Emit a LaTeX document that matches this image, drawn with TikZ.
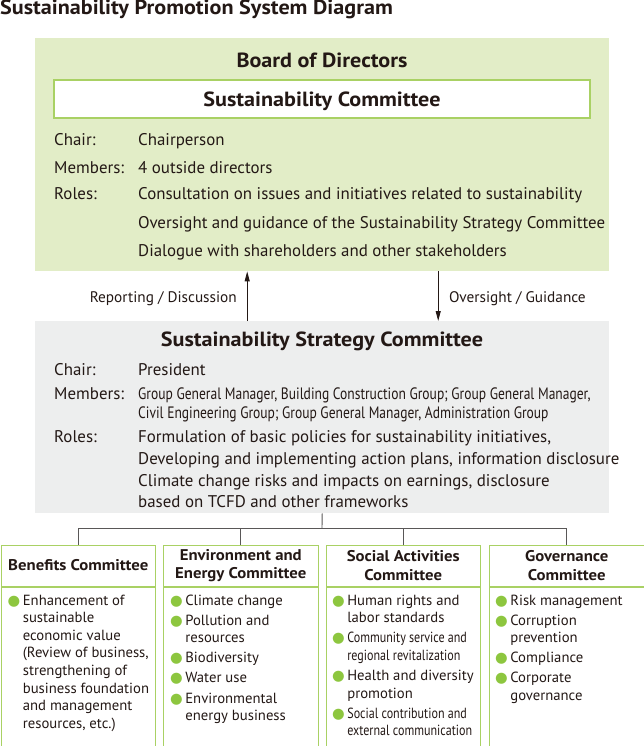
\documentclass[tikz,border=0pt]{standalone}
\usepackage{fontspec}
\setmainfont{PT Sans}
\newfontfamily\narrowfont[FakeStretch=0.82]{PT Sans}
\newfontfamily\headfont[FakeStretch=1.08]{PT Sans}
\newfontfamily\dotfont{DejaVu Sans}
\usetikzlibrary{positioning, arrows.meta}

\definecolor{boardgreen}{HTML}{E2EDC7}
\definecolor{framegreen}{HTML}{A9D164}
\definecolor{dotgreen}{HTML}{8DC63F}
\definecolor{strategygray}{HTML}{EDEEEE}
\definecolor{inkblack}{HTML}{231815}
\definecolor{treegray}{HTML}{595757}

\newcommand{\greendot}{{\dotfont\fontsize{14.5}{17.6}\selectfont\textcolor{dotgreen}{●}}}
\newcommand{\bodysize}{\fontsize{16.9}{22}\selectfont}
\newcommand{\smallsize}{\fontsize{14.7}{17.6}\selectfont}

\tikzstyle{panel} = [rectangle, anchor=north west, inner sep=0pt, minimum width=574pt]
\tikzstyle{heading} = [inner sep=0pt, anchor=base, font=\fontsize{20.5}{22}\headfont\bfseries]
\tikzstyle{rowtext} = [inner sep=0pt, anchor=base west, font=\bodysize]
\tikzstyle{arrowlabel} = [inner sep=0pt, font=\fontsize{15.3}{18}\selectfont]
\tikzstyle{flow} = [draw=inkblack, line width=0.9pt, -{Triangle[length=10pt, width=5pt]}]
\tikzstyle{tree} = [draw=treegray, line width=0.9pt]
\tikzstyle{cmhead} = [draw=framegreen, line width=1pt, rectangle, anchor=north west,
    minimum width=154.5pt, minimum height=41pt, inner sep=0pt, align=center,
    font=\fontsize{15.5}{18.5}\headfont\bfseries]
\tikzstyle{cmbody} = [draw=framegreen, line width=1pt, rectangle,
    minimum width=154.5pt, minimum height=160pt, inner sep=0pt]
\tikzstyle{items} = [inner sep=0pt, anchor=base west, font=\smallsize]

\begin{document}
\begin{tikzpicture}[x=1pt, y=-1pt, every node/.append style={text=inkblack}]
    \useasboundingbox (0,0) rectangle (644,746);

    \node[anchor=base west, inner sep=0pt, font=\fontsize{20.5}{22}\headfont\bfseries] (title) at (0,15) {Sustainability Promotion System Diagram};

    % board of directors
    \node[panel, fill=boardgreen, minimum height=233pt] (board) at (35,38) {};
    \node[heading] (boardtitle) at (322,68) {Board of Directors};
    \node[draw=framegreen, line width=1.2pt, fill=white, minimum width=536pt, minimum height=38pt, inner sep=0pt] (susco) at (322,99) {};
    \node[heading] (suscotitle) at (322,107) {Sustainability Committee};

    \node[rowtext] (bchairkey) at (54,146) {Chair:};
    \node[rowtext] (bchair) at (138,146) {Chairperson};
    \node[rowtext] (bmemberkey) at (54,173) {Members:};
    \node[rowtext] (bmember) at (138,173) {4 outside directors};
    \node[rowtext] (brolekey) at (54,200) {Roles:};
    \node[rowtext] (brole1) at (138,200) {Consultation on issues and initiatives related to sustainability};
    \node[rowtext] (brole2) at (138,228) {Oversight and guidance of the Sustainability Strategy Committee};
    \node[rowtext] (brole3) at (138,256) {Dialogue with shareholders and other stakeholders};

    % strategy committee
    \node[panel, fill=strategygray, minimum height=192pt] (strategy) at (35,321) {};
    \node[heading] (strategytitle) at (322,346) {Sustainability Strategy Committee};

    \node[rowtext] (schairkey) at (54,375) {Chair:};
    \node[rowtext] (schair) at (138,375) {President};
    \node[rowtext] (smemberkey) at (54,399) {Members:};
    \node[rowtext, font=\fontsize{16.5}{20}\narrowfont] (smember1) at (138,399) {Group General Manager, Building Construction Group; Group General Manager,};
    \node[rowtext, font=\fontsize{16.5}{20}\narrowfont] (smember2) at (138,418) {Civil Engineering Group; Group General Manager, Administration Group};
    \node[rowtext] (srolekey) at (54,442) {Roles:};
    \node[rowtext] (srole1) at (138,442) {Formulation of basic policies for sustainability initiatives,};
    \node[rowtext] (srole2) at (138,464) {Developing and implementing action plans, information disclosure};
    \node[rowtext] (srole3) at (138,486) {Climate change risks and impacts on earnings, disclosure};
    \node[rowtext] (srole4) at (138,507) {based on TCFD and other frameworks};

    \draw[flow] ([xshift=-75pt]strategy.north) -- ([xshift=-75pt]board.south);
    \draw[flow] ([xshift=116pt]board.south) -- ([xshift=116pt]strategy.north);
    \node[arrowlabel, anchor=base east] (reportlabel) at (237,302) {Reporting / Discussion};
    \node[arrowlabel, anchor=base west] (oversightlabel) at (449,302) {Oversight / Guidance};

    % committees
    \node[cmhead] (benefitshead) at (0.5,544.5) {Benefits Committee};
    \node[cmbody, below=0pt of benefitshead] (benefitsbody) {};
    \node[cmhead] (envhead) at (163,544.5) {Environment and\\Energy Committee};
    \node[cmbody, below=0pt of envhead] (envbody) {};
    \node[cmhead] (socialhead) at (325.5,544.5) {Social Activities\\Committee};
    \node[cmbody, below=0pt of socialhead] (socialbody) {};
    \node[cmhead] (govhead) at (489,544.5) {Governance\\Committee};
    \node[cmbody, below=0pt of govhead] (govbody) {};

    \coordinate (fork) at (322,528);
    \draw[tree] (strategy.south) -- (fork);
    \foreach \c in {benefitshead, envhead, socialhead, govhead}
        \draw[tree] (\c.north) |- (fork);

    \node[items] (benefitsitems) at (7.5,605) {\begin{tabular}[t]{@{}l@{\hspace{2.5pt}}l@{}}
        \greendot & Enhancement of\\
        & sustainable\\
        & economic value\\
        & (Review of business,\\
        & strengthening of\\
        & business foundation\\
        & and management\\
        & resources, etc.)
    \end{tabular}};
    \node[items] (envitems) at (170,605) {\begin{tabular}[t]{@{}l@{\hspace{2.5pt}}l@{}}
        \greendot & Climate change\\[2.5pt]
        \greendot & Pollution and\\
        & resources\\[2.5pt]
        \greendot & Biodiversity\\[2.5pt]
        \greendot & Water use\\[2.5pt]
        \greendot & Environmental\\
        & energy business
    \end{tabular}};
    \node[items] (socialitems) at (332,605) {\begin{tabular}[t]{@{}l@{\hspace{2.5pt}}l@{}}
        \greendot & Human rights and\\
        & labor standards\\[2.5pt]
        \greendot & {\narrowfont Community service and}\\
        & {\narrowfont regional revitalization}\\[2.5pt]
        \greendot & Health and diversity\\
        & promotion\\[2.5pt]
        \greendot & {\narrowfont Social contribution and}\\
        & {\narrowfont external communication}
    \end{tabular}};
    \node[items] (govitems) at (495,605) {\begin{tabular}[t]{@{}l@{\hspace{2.5pt}}l@{}}
        \greendot & Risk management\\[2.5pt]
        \greendot & Corruption\\
        & prevention\\[2.5pt]
        \greendot & Compliance\\[2.5pt]
        \greendot & Corporate\\
        & governance
    \end{tabular}};
\end{tikzpicture}
\end{document}
